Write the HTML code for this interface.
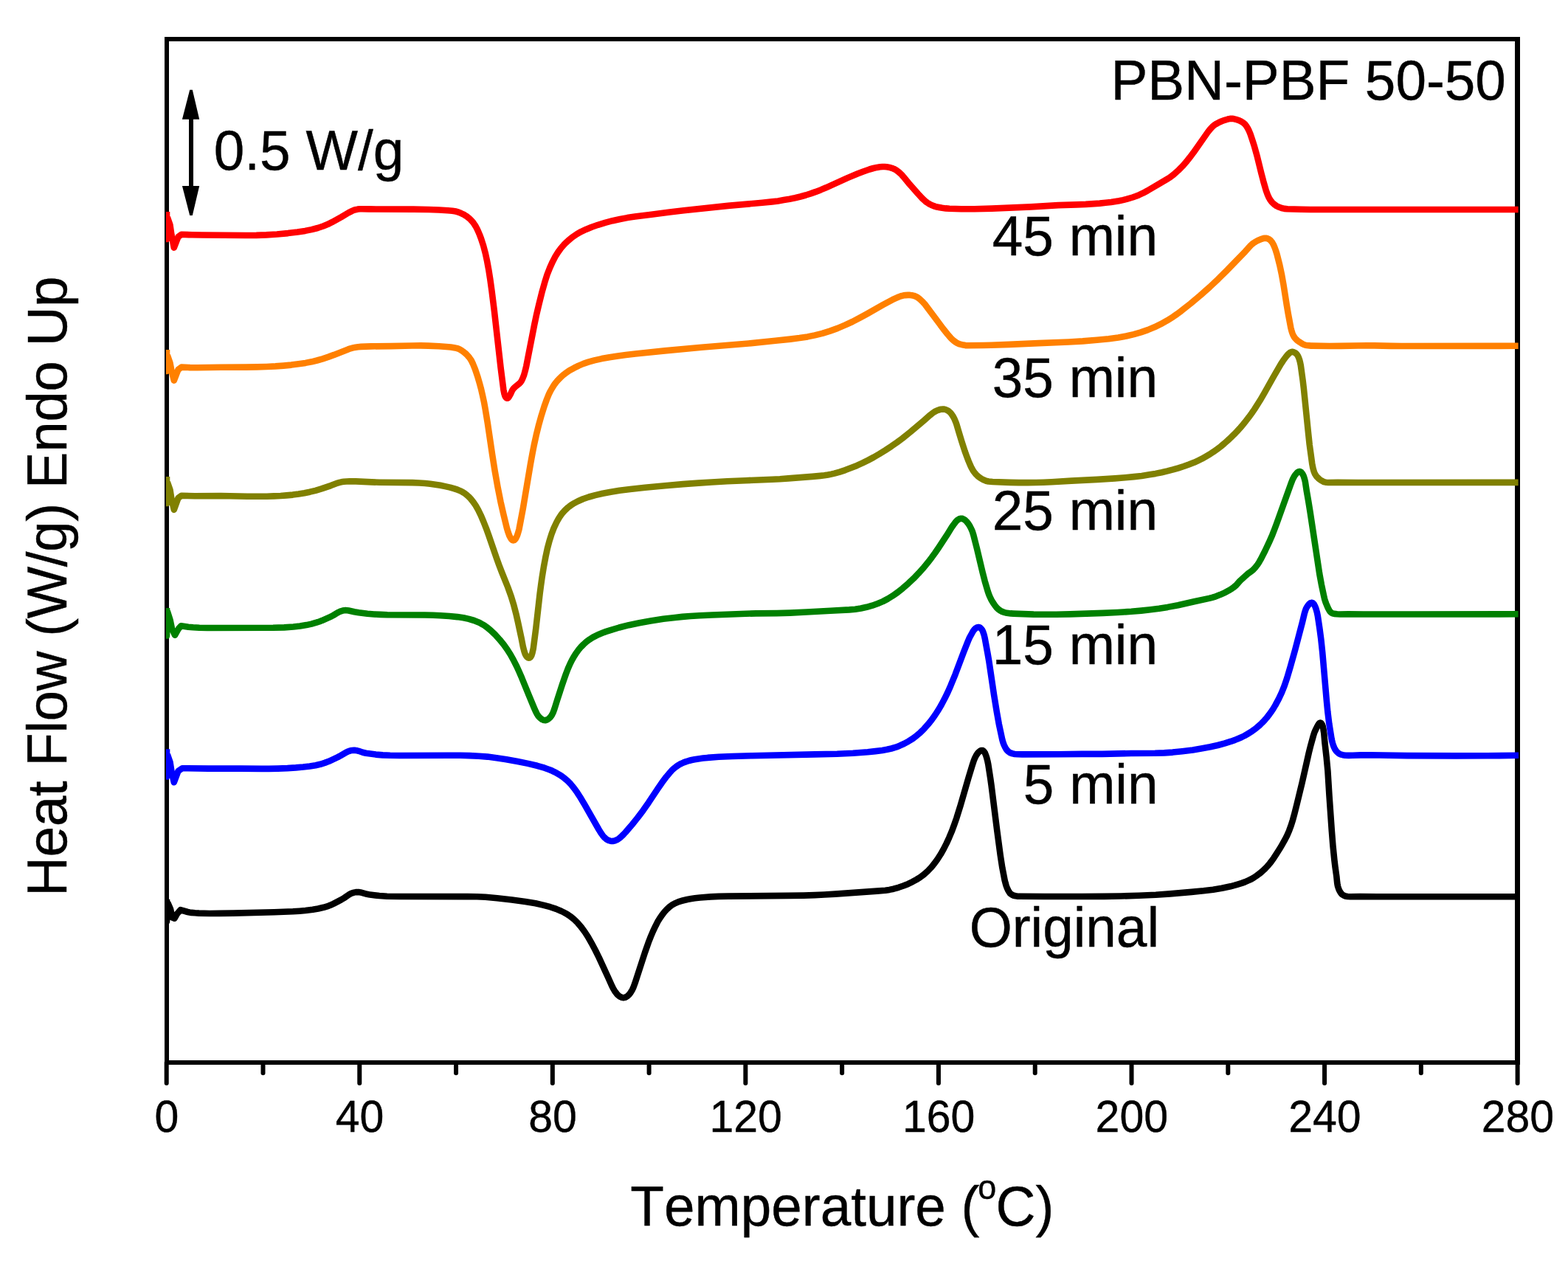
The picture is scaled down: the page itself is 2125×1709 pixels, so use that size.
<!DOCTYPE html>
<html lang="en">
<head>
<meta charset="utf-8">
<title>PBN-PBF 50-50 DSC heating curves</title>
<style>
html,body{margin:0;padding:0;background:#fff;}
body{width:2125px;height:1709px;overflow:hidden;}
svg{display:block;}
text{font-family:"Liberation Sans",Arial,Helvetica,sans-serif;fill:#000;stroke:#000;stroke-width:0.4px;font-kerning:none;font-variant-ligatures:none;}
.c{fill:none;stroke-width:8.6;stroke-linejoin:round;stroke-linecap:butt;}
.ax{fill:none;stroke:#000;}
</style>
</head>
<body>
<svg xmlns="http://www.w3.org/2000/svg" width="2125" height="1709" viewBox="0 0 2125 1709">
<rect x="0" y="0" width="2125" height="1709" fill="#ffffff"/>
<g class="ax">
<path d="M226,50V1443" stroke-width="6"/>
<path d="M2056.5,50V1443" stroke-width="7"/>
<path d="M223,53H2060" stroke-width="6"/>
<path d="M223,1440H2060" stroke-width="6"/>
<line x1="225.70" y1="1440.0" x2="225.70" y2="1468.0" stroke-width="6.0" stroke-linecap="round"/>
<line x1="356.48" y1="1440.0" x2="356.48" y2="1454.2" stroke-width="6.0" stroke-linecap="round"/>
<line x1="487.26" y1="1440.0" x2="487.26" y2="1468.0" stroke-width="6.0" stroke-linecap="round"/>
<line x1="618.04" y1="1440.0" x2="618.04" y2="1454.2" stroke-width="6.0" stroke-linecap="round"/>
<line x1="748.82" y1="1440.0" x2="748.82" y2="1468.0" stroke-width="6.0" stroke-linecap="round"/>
<line x1="879.60" y1="1440.0" x2="879.60" y2="1454.2" stroke-width="6.0" stroke-linecap="round"/>
<line x1="1010.38" y1="1440.0" x2="1010.38" y2="1468.0" stroke-width="6.0" stroke-linecap="round"/>
<line x1="1141.16" y1="1440.0" x2="1141.16" y2="1454.2" stroke-width="6.0" stroke-linecap="round"/>
<line x1="1271.94" y1="1440.0" x2="1271.94" y2="1468.0" stroke-width="6.0" stroke-linecap="round"/>
<line x1="1402.72" y1="1440.0" x2="1402.72" y2="1454.2" stroke-width="6.0" stroke-linecap="round"/>
<line x1="1533.50" y1="1440.0" x2="1533.50" y2="1468.0" stroke-width="6.0" stroke-linecap="round"/>
<line x1="1664.28" y1="1440.0" x2="1664.28" y2="1454.2" stroke-width="6.0" stroke-linecap="round"/>
<line x1="1795.06" y1="1440.0" x2="1795.06" y2="1468.0" stroke-width="6.0" stroke-linecap="round"/>
<line x1="1925.84" y1="1440.0" x2="1925.84" y2="1454.2" stroke-width="6.0" stroke-linecap="round"/>
<line x1="2056.62" y1="1440.0" x2="2056.62" y2="1468.0" stroke-width="6.0" stroke-linecap="round"/>
</g>
<defs><clipPath id="plot"><rect x="225" y="56" width="1833" height="1381"/></clipPath></defs>
<g clip-path="url(#plot)">
<path class="c" stroke="#000000" d="M226.0,1218.8L226.0,1248.8L227.5,1224.0L231.0,1232.0L233.5,1243.5L236.5,1244.7L240.0,1238.5L244.5,1233.2L254.4,1236L256.8,1236.5L259.3,1236.9L264.2,1237.3L269.6,1237.6L284.1,1238L297.6,1237.9L316.1,1237.6L371.5,1236.3L397,1235.3L406,1234.7L413.9,1234L423.8,1232.8L431.2,1231.5L438.5,1229.8L445.1,1227.8L448.3,1226.5L451.9,1224.9L462.4,1219.4L466.2,1217.1L472.9,1212.5L475.5,1211L477.4,1210.3L479.7,1209.6L482.2,1209.1L484.2,1209L486.2,1209.1L488.6,1209.4L497.4,1211.8L501.3,1212.6L514.1,1214L524.5,1214.7L541.9,1215L633.4,1215.1L646.4,1215.3L657.9,1215.8L673.8,1217.2L693.7,1219.4L712,1222L725.8,1224.3L736,1226.6L745.7,1229.2L753.7,1231.9L761,1235L764.1,1236.5L767.2,1238.2L770.1,1240L773,1242L775.7,1244.1L778,1246L782.6,1250.5L787.8,1256.6L792.5,1263L797.1,1270.1L802.2,1279.2L806.9,1288L811.8,1297.9L824.5,1325.5L829.2,1336L831,1339.6L832.8,1342.7L834.2,1344.7L835.7,1346.7L837.4,1348.5L838.9,1349.8L840.6,1350.9L842.3,1351.7L844.2,1352.1L845.6,1352.1L847.1,1351.8L848.8,1351L850.5,1349.9L852.3,1348.2L853.9,1346.3L855.3,1344.2L856.8,1341.6L858.1,1338.9L860.4,1332.8L874,1291L878.8,1277.3L881.9,1269.4L885.2,1261.6L888.4,1254.9L891.4,1249.1L894.2,1244.5L897.3,1240L900.7,1235.7L904.4,1231.7L907.4,1229L910.6,1226.6L914,1224.7L918.1,1222.8L921.4,1221.6L925.2,1220.5L931.5,1219L936.9,1218L941.8,1217.3L948.7,1216.5L963.2,1215.4L974.1,1214.9L987.1,1214.6L1068.1,1213.9L1089.1,1213.6L1104.1,1213.1L1117.1,1212.5L1132.1,1211.6L1188.4,1207.6L1199.8,1206.7L1205.2,1205.9L1211,1204.7L1217.7,1202.8L1224.3,1200.5L1230.8,1197.9L1236.6,1195.1L1242.2,1192L1246.8,1189.1L1252,1185.2L1257.2,1180.6L1261.7,1175.9L1266.1,1170.6L1270.5,1164.5L1274.8,1157.8L1279,1150.4L1282.8,1142.9L1286.3,1135.2L1289.8,1126.9L1293.1,1118L1296.4,1108.6L1301.7,1091.4L1312.3,1054.9L1318.1,1035.8L1319.7,1031L1320.8,1028.2L1322.1,1025.5L1323.3,1023.3L1324.4,1021.7L1325.6,1020.1L1327,1018.7L1328.6,1017.6L1329.9,1017.1L1331.2,1017L1332,1017.2L1332.7,1017.7L1334,1019.1L1335,1020.8L1336.1,1023.5L1337.2,1026.9L1338.3,1031.2L1339.3,1036.2L1342.2,1054.9L1343.6,1064.8L1351.4,1126.8L1355.7,1159L1358.3,1175.8L1361.6,1192.9L1362.6,1196.8L1363.6,1200.2L1365,1203.9L1366.5,1207.1L1367.8,1209.2L1369,1210.8L1370.5,1212L1372.2,1213L1374,1213.8L1376.4,1214.3L1378.4,1214.6L1381.9,1214.7L1415.4,1215L1466.4,1215L1496.4,1214.9L1518.9,1214.5L1543.4,1213.7L1566.4,1212.7L1585.8,1211.4L1614.7,1208.9L1631.1,1207.3L1644,1205.7L1655.8,1203.8L1667.6,1201.3L1672.9,1199.9L1678.1,1198.4L1682.9,1196.9L1687.1,1195.4L1691.6,1193.4L1695.7,1191.5L1699.1,1189.5L1702.8,1187L1706.8,1184.1L1710.6,1180.9L1714.3,1177.5L1717.7,1173.9L1720.6,1170.5L1723.3,1167L1726.2,1162.9L1729.5,1157.9L1734,1150.8L1737.8,1144.3L1741.7,1137.4L1744.2,1132.5L1747,1126.1L1749.4,1119.6L1751.8,1112L1754.3,1102.9L1757.6,1089.8L1764.7,1060.6L1773.9,1019.7L1776.1,1011L1779.8,997.5L1780.8,994.2L1781.9,991.3L1783.4,988.1L1785,985L1786.4,982.4L1787.5,980.8L1788.4,979.9L1789.4,979.6L1790.1,979.8L1790.7,980.3L1791.7,981.8L1792.7,984.5L1793.4,988L1794.3,993.9L1795.3,1005.5L1797.7,1026.7L1799.4,1044.6L1801.5,1078.5L1804.9,1126.9L1806.4,1145.9L1808.4,1165.8L1809.6,1175.7L1811.3,1187.5L1812.2,1196.5L1812.6,1199L1813,1200.9L1813.9,1203.8L1814.8,1206.1L1815.7,1207.9L1816.7,1209.6L1817.9,1211.2L1819,1212.2L1821,1213.6L1823.3,1214.5L1826.2,1215L1830.2,1215.2L1843.2,1215L1866.2,1215.2L2057.6,1215.2"/>
<path class="c" stroke="#0000ff" d="M226.0,1015.3L226.0,1052.5L227.0,1023.0L230.5,1033.0L232.4,1045.0L235.8,1060.3L241.5,1045.0L247,1041.2L282.5,1041.6L326,1041.6L354,1041.9L364.5,1041.9L376.5,1041.6L389.5,1041.1L400.9,1040.4L410.9,1039.5L419.8,1038.4L427.7,1037.2L434,1035.8L440.1,1033.9L445.7,1031.8L457.8,1026.1L461.3,1024.2L468.2,1020.2L471.4,1018.6L473.2,1017.9L475.1,1017.3L477.1,1017L479.1,1016.9L481.6,1016.9L484.1,1017.3L486,1017.8L491.7,1019.8L496,1020.8L509.3,1022.6L518.7,1023.4L528.7,1023.8L541.7,1024L608.2,1023.7L623.7,1023.8L636.6,1024.1L649.1,1024.7L660.6,1025.6L673,1027.2L686.3,1029.2L701.5,1032L715.7,1034.9L727.9,1037.8L737.9,1040.7L744.9,1043.2L748.6,1044.8L752.2,1046.6L758.2,1049.9L761.1,1051.8L763.9,1053.9L768.9,1058L773.4,1062.6L777.8,1068L782.2,1074.1L786.5,1080.8L791.4,1088.9L811.4,1124L814.3,1128.7L816.9,1132.4L818.5,1134.3L820.3,1136L821.9,1137.3L823.5,1138.3L825.3,1139.2L827.2,1139.7L829.2,1140L831.1,1139.9L833.5,1139.3L836.3,1138.1L838.8,1136.5L841.1,1134.6L844.4,1131.5L847.8,1127.9L856.9,1117.2L864.4,1107.9L871.6,1098.3L879,1087.7L891.5,1068.9L897.1,1060.7L903.1,1052.7L908.5,1046.3L910.9,1043.7L913.4,1041.4L915.8,1039.5L918.2,1037.7L921.2,1035.9L923.8,1034.6L926.5,1033.4L929.3,1032.4L933.6,1031L937.5,1030L941.4,1029.2L946.3,1028.4L952.7,1027.6L959.1,1026.9L974.1,1025.8L992.5,1025L1019,1024.2L1104.5,1022.4L1134.5,1021.7L1156,1020.7L1175.9,1019.2L1186.3,1018.1L1195.7,1016.9L1202.1,1015.8L1207.9,1014.5L1214.1,1012.7L1219.2,1010.7L1225.1,1008L1231.2,1004.7L1237.1,1001L1242.2,997.1L1247.1,992.9L1252.4,987.7L1257.7,981.7L1262.7,975.5L1267.3,969L1271.9,961.9L1275.9,955L1280.1,947.1L1284.3,938.5L1288.3,929.4L1294.6,914.1L1306,883.7L1311.9,868.9L1313.9,864.3L1317.5,857.7L1319,855.1L1320.2,853.5L1321.5,852.1L1322.7,851.1L1323.9,850.4L1325.3,850.1L1326.7,850.1L1327.5,850.4L1328.4,850.8L1329.8,852.1L1331,853.6L1331.9,855.4L1332.9,858.2L1333.8,861.1L1334.7,865L1338.5,885.6L1340.2,895.4L1347.1,941.9L1350.8,964.6L1353.8,981.3L1358.4,1002.8L1359.4,1006.2L1360.6,1009.5L1361.9,1012.2L1363.3,1014.8L1364.8,1016.8L1366.2,1018.3L1367.7,1019.4L1369.5,1020.4L1372.3,1021.4L1375.2,1022L1379.2,1022.3L1385.2,1022.4L1434.2,1022.3L1466.5,1021.9L1493.8,1021.9L1532.8,1021L1565.3,1020.8L1577.8,1020.4L1589.2,1019.6L1602.1,1018.2L1616.5,1016.4L1629.3,1014.3L1640.1,1012.3L1650.4,1010L1660,1007.4L1668.6,1004.7L1673.7,1002.9L1678.3,1001L1682.9,999L1686.9,997L1691.2,994.5L1695.4,991.9L1699.1,989.3L1703,986.3L1706.8,983.1L1710,980L1713.5,976.4L1716.7,972.7L1719.8,968.8L1722.7,964.7L1725.5,960.6L1728.3,955.9L1733,947.1L1737,938.6L1740.7,929.3L1744.4,918.4L1748.5,904.5L1755,881.4L1765.1,842.8L1767.8,831.5L1769.1,827.2L1770,824.9L1770.9,823.1L1772,821.5L1773.2,819.9L1774.5,818.4L1775.6,817.5L1776.9,816.9L1777.7,816.8L1778.5,816.9L1779.2,817.3L1779.9,817.9L1780.8,819L1782.4,822.1L1783.7,825.8L1784.9,830.2L1785.9,835.1L1788.4,851.9L1790.3,866.2L1792.2,884.1L1797.8,948.9L1799.4,965.3L1801.3,980.7L1804.5,1000.9L1805.2,1004.3L1806.1,1007.7L1807.2,1011L1808.2,1013.3L1809.3,1015.5L1810.7,1017.6L1812.4,1019.5L1813.9,1020.7L1815.1,1021.6L1816.4,1022.2L1817.8,1022.7L1819.8,1023.2L1823.2,1023.7L1827.7,1023.9L1833.2,1023.8L1844.2,1023.4L1856.7,1023.3L1907.1,1024.1L1973.6,1024.4L2015.6,1024.3L2058.2,1023.8"/>
<path class="c" stroke="#008000" d="M226.0,823.9L226.0,861.5L227.0,829.0L230.5,840.0L233.0,852.0L237.0,860.8L242.0,852.0L245.5,848.3L255.3,849.7L261.7,850.3L270.2,850.8L281.1,851L370.1,850.8L385.1,850.4L397.6,849.5L406.5,848.5L415.3,847.1L422.1,845.6L428.8,843.7L432.6,842.5L436.3,841.1L448,835.8L451.6,834L457.1,830.6L459.8,829.2L462.1,828.3L464.5,827.6L466.5,827.3L468.5,827.1L470.5,827.2L472.5,827.5L480.3,829.2L486.2,830.2L498,831.7L506.9,832.5L515.4,832.9L524.9,833.2L575.9,833.5L586.9,833.8L596.9,834.2L608.8,835L619.8,836.1L628.1,837.3L635.4,838.9L642.6,841L648.1,843.2L651.2,844.7L654.3,846.4L657.2,848.2L659.6,849.9L665,854.3L671.1,860.2L677.1,866.8L682.8,873.8L687.4,880.2L691.7,887L695.8,894.4L700.3,903.3L703.6,910.5L707.2,918.8L716.8,942.4L723.7,959L725.9,964L727.5,967.2L728.8,969.3L730.3,971.3L731.7,972.7L733.2,974L734.8,975.1L736.6,975.9L738,976.1L739.5,976.1L740.8,975.7L742.2,975.1L743.8,973.9L745.2,972.6L746.2,971.5L747.4,969.9L748.4,968.1L749.5,965.9L751.4,960.7L755.3,948.3L761.9,927.9L764.5,920.3L767,913.3L769.7,906.3L772.5,899.9L775.1,894.6L777.8,889.8L780.8,885.2L784,880.8L787.5,876.6L791,873.1L794.7,869.8L799.1,866.6L803.3,863.9L807.7,861.6L811.7,859.7L816.4,857.8L821.5,855.9L827.2,854.1L839.1,850.5L852.2,847.2L866.4,844.2L881.6,841.5L898.9,838.8L914.8,836.9L924.7,835.9L935.7,835L948.2,834.3L964.7,833.5L1011.1,831.7L1024.6,831.4L1052.6,831.1L1070.6,830.6L1093.1,829.5L1125.5,827.7L1150.9,826.4L1158.9,825.7L1166.7,824.5L1174.5,822.8L1182.1,820.7L1189.6,818L1196.5,815.1L1203.1,811.6L1209.5,807.7L1216.4,802.9L1223.4,797.3L1231,790.7L1238.2,783.9L1244.8,777.1L1250.8,770.4L1256.9,763.1L1262.7,755.6L1267.1,749.5L1271.9,742.5L1282.8,725.9L1289.7,714.8L1292,711.5L1294.4,708.3L1296.3,706L1298.2,704.4L1299.9,703.4L1301.7,702.8L1303.6,702.8L1304.5,703L1305.9,703.6L1307.9,704.9L1310.1,707L1312.3,709.7L1314.4,713.1L1316.2,716.6L1317.8,720.3L1319.3,725.1L1324.1,744L1331.7,776.1L1334.7,787.7L1336.9,795.3L1338.9,802L1340.4,806.2L1342,809.9L1343.8,813.5L1346.1,817.3L1348.4,820.6L1350.9,823.7L1353.1,825.7L1355.5,827.5L1358.1,828.9L1360.5,829.8L1362.9,830.4L1366.3,830.9L1369.8,831.4L1373.3,831.6L1400.8,832.6L1416.3,832.8L1431.3,832.8L1450.2,832.4L1494.7,830.9L1514.2,830L1533.1,828.8L1546.6,827.6L1559,826.3L1570.9,824.8L1582.3,822.9L1596.5,820.2L1618.4,815.3L1638.8,810.9L1642.7,809.9L1646,808.9L1653.4,806.1L1660.2,803.1L1666.7,799.5L1669.6,797.6L1672,795.9L1675.3,793.1L1680.3,787.4L1689.1,779.4L1691.2,777.6L1696.2,774L1698.4,772.2L1701.4,768.9L1704.4,765L1706.5,761.7L1708.5,758.2L1714.6,746.3L1719.7,735.4L1724.3,724.9L1727.2,717.5L1730.2,709.5L1749.6,655.4L1751.8,649.8L1753.9,645.8L1755.2,643.7L1756.5,642.2L1757.8,640.7L1759,639.8L1760.2,639.2L1761,639.1L1762.3,639.3L1763.4,640L1764.7,641.5L1765.7,643.1L1766.6,644.9L1767.4,647.3L1768.1,649.7L1768.9,653.1L1770.8,665.5L1773.2,679.2L1775.5,693.5L1788.2,777.6L1790.9,792.3L1794.1,807.4L1795.1,811.8L1796,814.7L1797.2,818L1798.7,821.7L1800.4,825.3L1801.6,827.5L1802.8,829.1L1804.2,830.4L1805.9,831.3L1808.3,831.9L1812.2,832.3L1816.2,832.5L1827.3,832.3L1847.7,832.5L1916.2,832.5L2057.6,832.3"/>
<path class="c" stroke="#808000" d="M226.0,645.9L226.0,682.0L227.0,654.0L230.5,664.0L232.4,676.0L235.8,690.9L241.5,675.0L245.9,671.8L263.9,672.2L299.4,672L334.9,672.7L350.9,672.8L361.4,672.7L371.3,672.4L380.3,672L388.3,671.4L396.7,670.6L404.7,669.5L412.5,668.2L419.9,666.7L427.6,664.8L435.7,662.4L448.4,658.1L457.7,654.6L460.1,653.9L462.5,653.3L465.9,652.8L469.8,652.5L473.8,652.3L482.2,652.4L503.7,653.4L514.1,653.7L559.1,654.1L568.1,654.5L576.1,655L583,655.7L589.9,656.7L596.8,657.8L603.2,659.1L610,660.6L615.2,662.1L620,663.7L624.1,665.4L626.3,666.5L628.9,668.1L630.9,669.5L633.2,671.4L635.4,673.4L637.5,675.5L641.3,680.2L644.7,685.1L648.1,691.1L651.6,698.3L655.3,707L658.8,715.8L662.4,725.7L673.1,756.9L676.5,766.3L680.1,775.6L688.3,796L692.7,808.2L696.3,820.1L699.7,833.2L701.8,842.5L706.6,864.8L708.9,876.7L710.4,882.5L711.7,886.3L712.6,888.1L713.4,889.3L714.3,890.5L715,891.1L716.1,891.6L716.9,891.7L717.7,891.5L718.7,890.8L719.6,889.6L720.3,888.4L721.5,884.6L722.8,878.7L726.4,850.9L731.6,804.7L733.1,793.3L734.6,782.5L737,767.6L739.5,754.4L741.9,743.2L744.6,733L747.6,723.5L750.6,715.6L754.2,708L756.1,704.5L758.1,701.1L760.1,698.2L762.2,695.4L764.5,692.8L766.5,690.7L768.7,688.7L771.4,686.5L773.8,684.7L776.7,682.8L783.3,679.3L790.1,676.3L798.1,673.5L806.7,671.1L816.9,668.7L827.7,666.7L839.6,664.8L854,663L874.3,660.8L901.2,658.3L925.6,656.1L946.6,654.6L964.5,653.5L985.5,652.3L1010.5,651.2L1046.4,649.8L1056.9,649.3L1068.4,648.4L1100.8,645.9L1111.7,644.9L1117.1,644.3L1122.1,643.5L1126.5,642.6L1130.8,641.6L1138,639.6L1145.6,637.1L1153.5,634.1L1161.4,630.9L1169.1,627.4L1176.7,623.6L1184.2,619.6L1191.9,615.1L1200,610.1L1208.4,604.6L1215.7,599.5L1223,594.1L1234.3,585L1251.8,570.2L1260.5,562.6L1264.4,559.5L1266.9,557.9L1269.6,556.5L1272.4,555.5L1275.2,554.7L1277.7,554.5L1279.7,554.6L1281.6,555.1L1283.9,556.1L1285.9,557.4L1287.8,559.1L1289.4,561L1291.1,563.4L1293.5,567.8L1295.6,572.9L1296.7,576.2L1299.5,585.8L1303.3,598.2L1307.6,611.5L1310,618.1L1312.5,624.6L1314.8,630.1L1316.7,634.2L1318.4,637.2L1320.4,640.1L1322.6,642.8L1325.1,645.3L1327.5,647.1L1330.4,649L1333.5,650.6L1336.3,651.7L1339.7,652.5L1345.2,653L1368.6,653.9L1380.6,654.1L1393.1,654.1L1404.1,654L1414.1,653.7L1425.1,653.2L1452,651.6L1487,649.9L1510.9,648.4L1524.9,647.3L1536.8,646.1L1547.3,644.9L1557.6,643.3L1566,641.9L1574.3,640.2L1582.1,638.4L1589.8,636.4L1597,634.3L1604.2,632L1611.2,629.5L1618.2,626.8L1623.6,624.3L1629,621.7L1634.6,618.5L1639.7,615.5L1644.7,612.2L1649.6,608.7L1654.4,605.1L1659.4,600.9L1663.8,597L1668.2,592.9L1672.5,588.7L1677,584L1681,579.6L1684.9,575L1688.6,570.4L1692.6,565.2L1696.4,560L1700.1,554.6L1707.6,542.8L1713.4,532.9L1727.1,508.5L1735.9,493.4L1738.9,488.8L1742.8,483.5L1745,480.9L1746.8,479.1L1748.3,477.9L1749.6,477.2L1750.9,476.9L1751.9,476.9L1753.7,477.4L1755.8,478.6L1757.3,479.9L1758.7,481.9L1759.8,484.1L1761,487.4L1762,491.3L1762.8,495.2L1765.6,515.5L1766.9,526.4L1772.8,584.6L1774.7,602.5L1778.2,628.2L1779.2,633.7L1780.1,637.1L1781,639.9L1782,642.2L1783.3,644.3L1784.8,646.3L1786.9,648.4L1788.8,650L1791.3,651.6L1793.5,652.8L1795.4,653.4L1797.4,653.8L1800.3,654L1812.9,653.8L1840.3,654L2057.6,653.9"/>
<path class="c" stroke="#ff8000" d="M226.0,474.1L226.0,503.0L227.0,482.0L230.5,492.0L232.4,502.0L235.8,515.6L241.5,501.0L245.9,497.6L257.4,498.1L267.3,498.2L299.3,497.7L333.3,497.6L348.3,497.4L361.3,497L373.3,496.4L384.2,495.6L394.7,494.6L404.6,493.3L414,491.9L422.3,490.3L429.6,488.5L437.2,486.3L445.3,483.6L452.7,480.9L471.8,473.4L475,472.3L478.4,471.4L481.8,470.7L485.2,470.2L489.2,469.9L503.1,469.4L529.6,469.1L558.6,468.5L570.1,468.4L580.5,468.6L595,469.3L604.9,470L610.9,470.5L615.4,471.2L618.8,471.9L621.2,472.7L623.4,473.7L625.6,475L627.6,476.4L630,478.3L632.2,480.3L633.9,482.1L635.9,484.4L637.3,486.4L638.7,488.5L640.9,493L643.9,500.4L647.1,509.8L649.9,519.4L652,527.1L653.9,535.4L655.9,544.6L657.7,554.5L660.8,573.2L667.1,615.8L670.6,638L674.5,660.1L678.5,680.2L682.4,697.3L686.9,715.7L688.5,721L690.4,726.2L692.3,729.7L693.1,730.9L694.1,731.8L694.8,732.2L695.6,732.4L696.8,732.1L697.8,731.3L698.7,730.2L699.7,728.5L700.8,726.2L701.6,723.9L703.4,717.6L708.8,689.1L719,628.5L721.5,614.7L723.8,603L726.7,589.8L729.8,577.2L733.7,563.2L737.6,550.8L741.1,541L743.9,534.1L745.7,530.5L747.4,527.5L749.4,524.1L751.3,521.2L753.4,518.4L755.6,515.7L758,513.2L760.5,510.7L763.1,508.4L765.8,506.3L771.5,502.3L777.6,498.9L784.2,495.6L790.7,492.9L797.3,490.7L805.4,488.4L815.6,486.1L825.9,484.2L837.3,482.4L848.2,480.9L861.1,479.4L900.9,475.4L950.7,470.8L1014.5,465.5L1050.8,461.8L1071.2,459.6L1083.6,458.1L1094.4,456.4L1104.2,454.4L1114.4,451.9L1124.8,448.6L1135.2,444.9L1145.7,440.4L1155.2,436L1165.9,430.4L1175.1,425.4L1196.8,413.1L1209.5,406.2L1214,404.1L1217.7,402.5L1221,401.3L1223.9,400.6L1226.9,400.1L1230.4,399.9L1233.3,399.9L1235.8,400.2L1238.7,400.9L1241.1,401.8L1243.3,402.9L1245.7,404.7L1250.5,409.1L1252.5,411.3L1254.4,413.6L1278,445.2L1284.2,453L1288.4,457.9L1290.2,459.7L1292.5,461.7L1294.9,463.5L1297,464.8L1298.8,465.7L1300.6,466.4L1305.5,467.6L1308.4,468.1L1311.4,468.2L1332.9,468L1343.4,467.7L1367.9,466.9L1407.3,465.1L1448.3,463.5L1467.3,462.4L1486.7,460.8L1502.6,459.2L1515.5,457.4L1526.3,455.5L1536.5,453.1L1546.1,450.4L1555.5,447.1L1564.7,443.3L1573.2,439.2L1581.5,434.6L1589.9,429.3L1595.2,425.6L1600.5,421.7L1613.4,411.5L1626.8,400.3L1639.5,389L1650.8,378.3L1662.1,367.1L1687.5,340.9L1694.5,333.1L1696.7,331L1698.7,329.5L1701.2,327.9L1703.8,326.4L1707,324.9L1709.8,323.8L1712.1,323.1L1714.1,322.8L1715.6,322.8L1717.9,323.3L1720.1,324.4L1722,325.9L1723.9,328.2L1725.7,331.3L1727.3,334.9L1729,339.6L1730.5,344.4L1734.3,359.4L1736.9,371.6L1739.3,384.9L1743.8,413.5L1745.7,424.8L1749.4,444.5L1750.3,447.9L1751.3,451.2L1752.4,454L1753.6,456.2L1754.7,457.8L1756.4,459.7L1758.6,461.7L1761.4,463.7L1764.8,465.9L1767,467L1768.9,467.6L1770.8,468L1776.8,468.6L1801.8,469L1817.3,468.9L1852.8,468.3L1862.7,468.4L1885.2,468.9L1899.2,469L2057.6,468.8"/>
<path class="c" stroke="#ff0000" d="M226.0,287.0L226.0,324.0L227.0,295.0L230.5,305.0L232.4,318.0L235.8,335.6L241.5,321.0L245.9,317.8L260.4,318.3L273.9,318.5L332.9,319L347.4,318.9L360.9,318.4L375.3,317.5L390.2,316.1L403.1,314.5L413.5,312.9L422.3,311.1L430.5,309L438,306.5L444,304.1L449.8,301.2L462.4,294.2L472.2,288.4L476.7,286.1L479.4,284.9L481.8,284.2L484.7,283.6L487.6,283.2L490.6,283.2L500.6,283.4L560.5,283.6L581,284L595,284.5L606.9,285.3L612.9,285.8L616.3,286.3L618.8,286.8L621.6,287.7L624.4,288.8L627.6,290.3L630.2,291.8L632.7,293.4L635.1,295.3L637.7,297.6L639.7,299.8L641.6,302.1L643.3,304.6L644.9,307.1L646.5,310.2L648.2,313.8L650.1,318.4L651.9,323.1L655.1,333L657.9,343.6L660.1,353.9L662.2,365.2L664.3,378.5L666.5,394.3L669.9,421.6L678.6,498.6L682.4,528.4L683.5,533.8L684.1,535.7L684.6,537.1L685.3,538.3L685.9,539L686.9,539.7L687.6,539.7L688.3,539.5L688.9,539L690,537.5L691.7,534.5L694.2,529L695.9,526.6L698,524.5L703.7,519.9L705.1,518.5L706,517.4L707,515.7L708.1,513.5L710.1,508.4L711.7,502.7L713.3,495.9L724.2,440.1L727.1,426.4L730.2,413.2L734.8,394.8L738.2,382.8L741.5,372.3L745.3,362.6L748.8,354.9L752.5,347.8L756.2,341.9L760.3,336.3L762.9,333.3L765.2,330.7L770.3,325.9L775.6,321.5L781.8,317.3L787.4,314.1L794.1,310.9L801.9,307.7L810.4,304.8L820,301.9L830.1,299.2L840.3,297L850.2,295.1L860.5,293.6L882.8,290.8L907.6,287.5L926.5,285.2L986.6,278.9L1033,274.8L1046.4,273.4L1054.3,272.4L1062.2,271.1L1070.1,269.7L1077.4,268.2L1084.7,266.5L1091.9,264.5L1098.6,262.4L1105.6,259.9L1112.1,257.4L1119.5,254.3L1148.6,241.1L1162,235.5L1169.9,232.5L1178.4,229.5L1183.6,228L1188.5,226.9L1192.5,226.3L1195.9,226L1198.9,226L1201.9,226.2L1205.4,226.9L1208.7,227.8L1211.5,228.9L1214.1,230.3L1217.8,233L1221.8,236.7L1224.1,239.3L1231.1,247.8L1243.9,262.4L1250,269L1254,272.7L1256.4,274.5L1258.9,276.1L1262,277.7L1264.7,278.9L1267.5,279.9L1269.9,280.6L1276.8,281.8L1281.7,282.4L1286.7,282.8L1302.6,283.3L1320.6,283.2L1344.1,282.6L1397.1,280.4L1434.2,278.1L1458.9,277.4L1471.4,276.9L1490.3,275.6L1498.3,274.8L1505.7,273.9L1516.5,272.2L1521.9,271.1L1526.8,269.9L1534.9,267.5L1539.1,266L1543.2,264.4L1549.1,261.7L1555.2,258.4L1583,242L1585.9,240.1L1590.6,236.5L1597.2,230.6L1602.5,225.3L1607.4,219.7L1612.1,213.8L1617.5,206.7L1637,178.9L1640.1,175L1642.8,172.1L1645.1,170.1L1647.9,168.1L1651.4,166.2L1655.1,164.5L1659.7,162.8L1664,161.5L1667,160.9L1670,160.8L1672.9,161.3L1676.3,162.2L1680,163.6L1682.7,164.9L1685.1,166.6L1687.4,168.6L1689.2,170.9L1690.8,173.5L1692.6,177L1694.5,181.7L1697.5,190.7L1700.1,198.8L1703.8,212.2L1709.4,235L1712.2,245.7L1715.9,258.6L1718,264.2L1719.7,267.9L1721.4,270.9L1723.5,273.7L1725.6,275.8L1727.5,277.4L1730,279.1L1733.6,280.8L1736.9,282L1740.8,282.9L1744.8,283.3L1763.7,283.8L1775.7,284L2057.6,284"/>
</g>
<g fill="#000" stroke="none">
<rect x="256" y="140" width="6" height="134"/>
<path d="M257.2,121.8H260.8L270.2,161.8H246.9Z"/>
<path d="M257.2,291.9H260.8L270.2,252H246.9Z"/>
</g>
<text transform="translate(226.0,1533.8) scale(1,1.022)" font-size="59" text-anchor="middle">0</text>
<text transform="translate(487.6,1533.8) scale(1,1.022)" font-size="59" text-anchor="middle">40</text>
<text transform="translate(749.1,1533.8) scale(1,1.022)" font-size="59" text-anchor="middle">80</text>
<text transform="translate(1010.7,1533.8) scale(1,1.022)" font-size="59" text-anchor="middle">120</text>
<text transform="translate(1272.2,1533.8) scale(1,1.022)" font-size="59" text-anchor="middle">160</text>
<text transform="translate(1533.8,1533.8) scale(1,1.022)" font-size="59" text-anchor="middle">200</text>
<text transform="translate(1795.4,1533.8) scale(1,1.022)" font-size="59" text-anchor="middle">240</text>
<text transform="translate(2056.9,1533.8) scale(1,1.022)" font-size="59" text-anchor="middle">280</text>
<text transform="translate(854.3,1661) scale(1,1.022)" font-size="74.7">Temperature (<tspan font-size="45" dx="-2.3" dy="-35.6">o</tspan><tspan dx="-0.6" dy="35.6">C)</tspan></text>
<text transform="translate(89.9,1214.9) rotate(-90) scale(1,1.027)" font-size="74.7" letter-spacing="-0.47">Heat Flow (W/g) Endo Up</text>
<text transform="translate(1505.4,134.8) scale(1,1.022)" font-size="74.7" text-anchor="start">PBN-PBF 50-50</text>
<text transform="translate(289.8,229.9) scale(1,1.022)" font-size="74.7" text-anchor="start">0.5 W/g</text>
<text transform="translate(1569.0,345.9) scale(1,1.022)" font-size="74.7" text-anchor="end">45 min</text>
<text transform="translate(1569.0,537.6) scale(1,1.022)" font-size="74.7" text-anchor="end">35 min</text>
<text transform="translate(1569.0,717.6) scale(1,1.022)" font-size="74.7" text-anchor="end">25 min</text>
<text transform="translate(1569.0,900.0) scale(1,1.022)" font-size="74.7" text-anchor="end">15 min</text>
<text transform="translate(1569.5,1088.8) scale(1,1.022)" font-size="74.7" text-anchor="end">5 min</text>
<text transform="translate(1571.0,1282.9) scale(1,1.022)" font-size="74.7" text-anchor="end">Original</text>
</svg>
</body>
</html>
